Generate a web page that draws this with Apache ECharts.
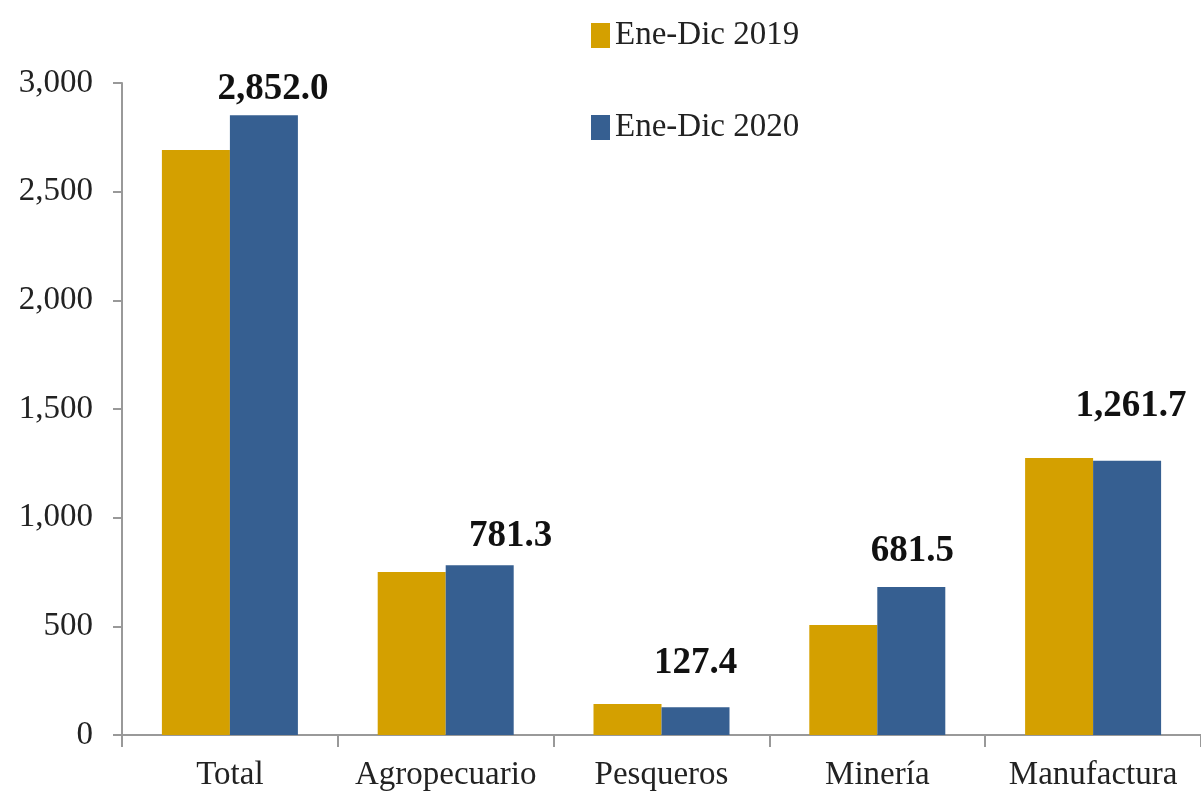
<!DOCTYPE html>
<html>
<head>
<meta charset="utf-8">
<script src="https://cdn.jsdelivr.net/npm/echarts@6/dist/echarts.min.js"></script>
<style>
  html, body { margin: 0; padding: 0; background: #fff; }
  #chart { width: 1201px; height: 807px; }
</style>
</head>
<body>
<div id="chart"></div>
<script>
const categories = ['Total', 'Agropecuario', 'Pesqueros', 'Minería', 'Manufactura']
const seriesNames = ['Ene-Dic 2019', 'Ene-Dic 2020']
const values2019 = [2692, 750, 143, 506, 1275]
const values2020 = [2852.0, 781.3, 127.4, 681.5, 1261.7]

// label nudges to follow the original placement
const labelOffsets = [[9, -4], [31, -7], [0, -22], [1, -14], [4, -33]]

const fontFamily = '"Liberation Serif", "DejaVu Serif", serif'
const fmt1 = v => v.toLocaleString('en-US', { minimumFractionDigits: 1, maximumFractionDigits: 1 })

const chart = echarts.init(document.getElementById('chart'), null, { renderer: 'canvas' })

const option = {
  animation: false,
  textStyle: { fontFamily },
  grid: { left: 122, right: -8, top: 83, bottom: 72 },
  legend: {
    orient: 'vertical',
    left: 586,
    top: 14,
    itemWidth: 19,
    itemHeight: 25,
    itemGap: 59,
    icon: 'rect',
    textStyle: { fontFamily, fontSize: 33, color: '#222' },
    data: seriesNames
  },
  xAxis: {
    type: 'category',
    data: categories,
    axisLine: { lineStyle: { color: '#999', width: 2 } },
    axisTick: { show: true, interval: 0, length: 12, lineStyle: { color: '#999', width: 2 } },
    axisLabel: { interval: 0, fontFamily, fontSize: 33, color: '#222', margin: 24 }
  },
  yAxis: {
    type: 'value',
    min: 0,
    max: 3000,
    interval: 500,
    axisLine: { show: true, lineStyle: { color: '#999', width: 2 } },
    axisTick: { show: true, length: 9, lineStyle: { color: '#999', width: 2 } },
    splitLine: { show: false },
    axisLabel: {
      fontFamily, fontSize: 33, color: '#222', margin: 29,
      formatter: v => v.toLocaleString('en-US')
    }
  },
  series: [
    {
      name: seriesNames[0],
      type: 'bar',
      data: values2019,
      barWidth: 68,
      barGap: '0%',
      itemStyle: { color: '#D4A000' }
    },
    {
      name: seriesNames[1],
      type: 'bar',
      data: values2020.map((v, i) => ({
        value: v,
        label: { offset: labelOffsets[i] }
      })),
      barWidth: 68,
      barGap: '0%',
      itemStyle: { color: '#365F91' },
      label: {
        show: true,
        position: 'top',
        distance: 3,
        fontFamily,
        fontSize: 37,
        fontWeight: 'bold',
        color: '#111',
        formatter: p => fmt1(p.value)
      }
    }
  ]
}

chart.setOption(option)
</script>
</body>
</html>
